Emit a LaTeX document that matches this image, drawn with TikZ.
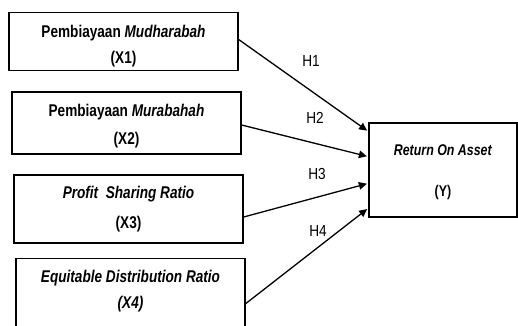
\documentclass[tikz,border=0pt]{standalone}
\usepackage{fontspec}
\setmainfont{Liberation Sans}
\newfontfamily\boxfont[FakeStretch=0.8]{Liberation Sans}
\newfontfamily\hfont[FakeStretch=0.85]{Liberation Sans}
\usetikzlibrary{calc,arrows.meta}
\begin{document}
\begin{tikzpicture}[x=1pt,y=-1pt,
  box/.style={draw,line width=1.3pt,rectangle,inner sep=0pt,align=center,font=\boxfont\fontsize{17}{20}\selectfont\bfseries},
  link/.style={line width=1.3pt,-{Triangle[length=8pt,width=7.5pt]},shorten >=1.5pt},
  hlab/.style={font=\hfont\fontsize{16}{18}\selectfont}]
\useasboundingbox (0,0) rectangle (518,325);
\clip (0,0) rectangle (518,325);
\node[box,minimum width=229pt,minimum height=58pt] (x1) at (123.5,41.5)
  {\rule{0pt}{22pt}Pembiayaan \textit{Mudharabah}\\[6pt](X1)};
\node[box,minimum width=229pt,minimum height=62pt] (x2) at (126.5,123)
  {\rule{0pt}{18.5pt}Pembiayaan \textit{Murabahah}\\[8pt](X2)};
\node[box,minimum width=229pt,minimum height=68pt] (x3) at (128.5,209)
  {\textit{Profit\ \ Sharing Ratio}\\[10pt](X3)};
\node[box,minimum width=229pt,minimum height=80pt,anchor=north] (x4) at (130.5,258)
  {\textit{Equitable Distribution Ratio}\\[6pt]\textit{(X4)}\rule[-19pt]{0pt}{19pt}};
\node[box,minimum width=148pt,minimum height=94pt,font=\boxfont\fontsize{15.5}{18.5}\selectfont\bfseries] (y) at (443,170)
  {\rule{0pt}{16pt}\textit{Return On Asset}\\[22.5pt](Y)};
\draw[link] ([yshift=2pt]x1.east) -- ($(y.north west)!0.096!(y.south west)$);
\draw[link] ([yshift=-2pt]x2.east) -- ($(y.north west)!0.36!(y.south west)$);
\draw[link] ([yshift=-8pt]x3.east) -- ($(y.north west)!0.64!(y.south west)$);
\draw[link] ([yshift=-5pt]x4.east) -- ($(y.north west)!0.90!(y.south west)$);
\node[hlab] (h1) at (311,61) {H1};
\node[hlab] (h2) at (315,118) {H2};
\node[hlab] (h3) at (317,174) {H3};
\node[hlab] (h4) at (318,231) {H4};
\end{tikzpicture}
\end{document}
